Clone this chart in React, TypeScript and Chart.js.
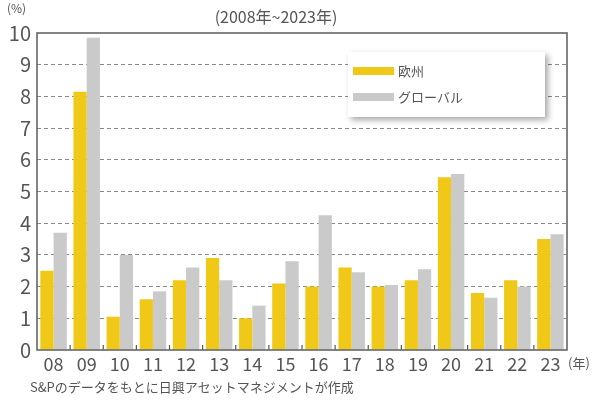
import { useEffect, useRef } from 'react';
import { Chart, registerables } from 'chart.js';

Chart.register(...registerables);

const years = ['08', '09', '10', '11', '12', '13', '14', '15', '16', '17', '18', '19', '20', '21', '22', '23'];
const europe = [2.5, 8.15, 1.05, 1.6, 2.2, 2.9, 1.0, 2.1, 2.0, 2.6, 2.0, 2.2, 5.45, 1.8, 2.2, 3.5];
const globalRates = [3.7, 9.85, 3.0, 1.85, 2.6, 2.2, 1.4, 2.8, 4.25, 2.45, 2.05, 2.55, 5.55, 1.65, 2.0, 3.65];
const seriesNames = ['欧州', 'グローバル'];
const seriesColors = ['#F0C818', '#CACACA'];
const subtitle = '(2008年~2023年)';
const yUnit = '(%)';
const xUnit = '(年)';
const sourceNote = 'S&Pのデータをもとに日興アセットマネジメントが作成';
const yMin = 0;
const yMax = 10;

const FONT = "'Noto Sans CJK JP', 'Noto Sans', sans-serif";
const TEXT = '#555555';

const decorPlugin = {
  id: 'decor',
  afterDraw(chart: any) {
    const { ctx, chartArea } = chart;
    const { left, right, top, bottom } = chartArea;
    const xs = chart.scales.x;
    ctx.save();
    ctx.strokeStyle = '#555';
    ctx.lineWidth = 1.2;
    for (let i = 1; i < years.length; i++) {
      const px = (xs.getPixelForValue(i - 1) + xs.getPixelForValue(i)) / 2;
      ctx.beginPath();
      ctx.moveTo(px, bottom);
      ctx.lineTo(px, bottom - 5);
      ctx.stroke();
    }
    ctx.strokeStyle = '#666';
    ctx.lineWidth = 1.6;
    ctx.strokeRect(left, top, right - left, bottom - top);

    const lx = 348, ly = 52, lw = 197, lh = 65;
    ctx.save();
    ctx.shadowColor = 'rgba(0,0,0,0.35)';
    ctx.shadowBlur = 6;
    ctx.shadowOffsetX = 3;
    ctx.shadowOffsetY = 3;
    ctx.fillStyle = '#ffffff';
    ctx.fillRect(lx, ly, lw, lh);
    ctx.restore();
    const ds = chart.data.datasets;
    const rowsY = [71, 97];
    ctx.font = `13px ${FONT}`;
    ctx.textBaseline = 'middle';
    ctx.textAlign = 'left';
    ds.forEach((d: any, i: number) => {
      ctx.fillStyle = d.backgroundColor;
      ctx.fillRect(353, rowsY[i] - 4, 41, 8);
      ctx.fillStyle = TEXT;
      ctx.fillText(d.label, 398, rowsY[i]);
    });

    ctx.fillStyle = TEXT;
    ctx.textAlign = 'center';
    ctx.textBaseline = 'middle';
    ctx.font = `16px ${FONT}`;
    ctx.fillText(subtitle, 276, 17);
    ctx.font = `12px ${FONT}`;
    ctx.textAlign = 'left';
    ctx.fillText(yUnit, 7, 8);
    ctx.font = `13px ${FONT}`;
    ctx.fillText(xUnit, 568, 363);
    ctx.fillText(sourceNote, 30, 387);
    ctx.restore();
  },
};

export default function App() {
  const ref = useRef<HTMLCanvasElement | null>(null);
  useEffect(() => {
    document.body.style.margin = '0';
    const canvas = ref.current;
    if (!canvas) return;
    const chart = new Chart(canvas, {
      type: 'bar',
      data: {
        labels: years,
        datasets: [
          { label: seriesNames[0], data: europe, backgroundColor: seriesColors[0], borderWidth: 0 },
          { label: seriesNames[1], data: globalRates, backgroundColor: seriesColors[1], borderWidth: 0 },
        ],
      },
      options: {
        animation: false,
        responsive: false,
        maintainAspectRatio: false,
        devicePixelRatio: 1,
        layout: { padding: { left: 0, right: 28, top: 33, bottom: 0 } },
        plugins: { legend: { display: false }, tooltip: { enabled: false }, title: { display: false } },
        datasets: { bar: { categoryPercentage: 0.8, barPercentage: 1.0 } },
        scales: {
          x: {
            grid: { display: false },
            border: { display: false },
            ticks: { color: TEXT, font: { family: FONT, size: 18, lineHeight: 1 }, padding: -3, maxRotation: 0, autoSkip: false },
            afterFit: (s: any) => { s.height = 50; },
          },
          y: {
            min: yMin,
            max: yMax,
            ticks: { stepSize: 1, color: TEXT, font: { family: FONT, size: 20 }, padding: 6 },
            grid: {
              color: (c: any) => (c.tick && (c.tick.value === yMin || c.tick.value === yMax) ? 'rgba(0,0,0,0)' : '#8a8a8a'),
              lineWidth: 1,
              drawTicks: false,
            },
            border: { display: false, dash: [4, 3] },
            afterFit: (s: any) => { s.width = 37; },
          },
        },
      },
      plugins: [decorPlugin],
    } as any);
    return () => chart.destroy();
  }, []);
  return (
    <div style={{ width: 595, height: 400, position: 'relative', background: '#fff' }}>
      <canvas ref={ref} width={595} height={400} style={{ width: 595, height: 400 }} />
    </div>
  );
}
